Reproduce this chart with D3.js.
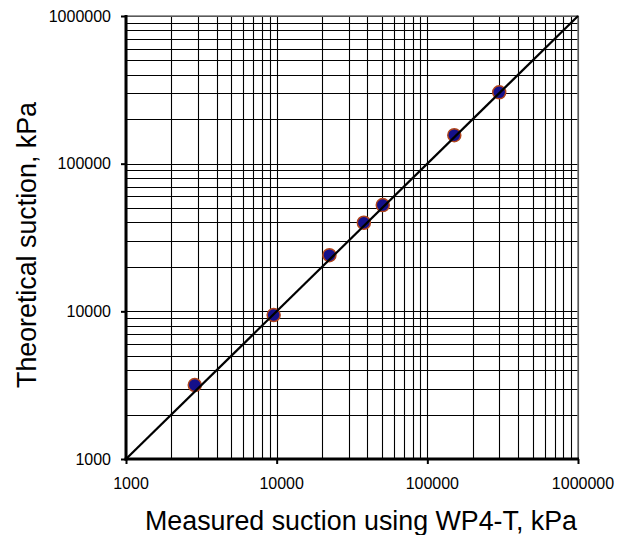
<!doctype html>
<html lang="en">
<head>
	<meta charset="UTF-8">
	<title>Measured vs theoretical suction</title>
	<script src="https://cdn.jsdelivr.net/npm/d3@7"></script>
	<style>
		body {
			margin: 0;
			background: #fff;
		}

		svg text {
			font-family: "Liberation Sans", Arial, Helvetica, sans-serif;
			fill: #000;
		}

		.tick-label {
			font-size: 16px;
		}

		.axis-title {
			font-size: 26.8px;
		}
	</style>
</head>
<body>
	<script>
		// measured suction (WP4-T), kPa
		var measured = [2860, 9550, 22400, 37900, 50600, 151000, 300000];
		// theoretical suction, kPa
		var theoretical = [3170, 9440, 24000, 39800, 52400, 156000, 304000];

		var xTicks = [1000, 10000, 100000, 1000000],
			yTicks = [1000, 10000, 100000, 1000000],
			domain = [1000, 1000000];

		var w = 633,
			h = 535,
			plotLeft = 126,
			plotRight = 578,
			plotTop = 16,
			plotBottom = 459;

		var svg = d3.select('body')
			.append('svg')
			.attr('width', w)
			.attr('height', h);

		var xScale = d3.scaleLog()
			.domain(domain)
			.range([plotLeft, plotRight]);

		var yScale = d3.scaleLog()
			.domain(domain)
			.range([plotBottom, plotTop]);

		// all grid values, major and minor
		var gridValues = function() {
			var vals = [];
			for (var p = 1000; p < 1000000; p *= 10) {
				for (var k = 1; k < 10; k++) {
					vals.push(p * k);
				}
			}
			vals.push(1000000);
			return vals;
		};

		// grid
		var grid = svg.append('g').attr('class', 'grid');

		grid.selectAll('line.vgrid')
			.data(gridValues())
			.enter()
			.append('line')
			.attr('class', 'vgrid')
			.attr('x1', function(d) { return Math.round(xScale(d)) + 0.5; })
			.attr('x2', function(d) { return Math.round(xScale(d)) + 0.5; })
			.attr('y1', plotTop)
			.attr('y2', plotBottom)
			.attr('stroke', '#000')
			.attr('stroke-width', 1.1);

		grid.selectAll('line.hgrid')
			.data(gridValues())
			.enter()
			.append('line')
			.attr('class', 'hgrid')
			.attr('y1', function(d) { return Math.round(yScale(d)) + 0.5; })
			.attr('y2', function(d) { return Math.round(yScale(d)) + 0.5; })
			.attr('x1', plotLeft)
			.attr('x2', plotRight)
			.attr('stroke', '#000')
			.attr('stroke-width', 1.1);

		// top / right border
		svg.append('path')
			.attr('d', 'M' + plotLeft + ',' + plotTop + 'H' + plotRight + 'V' + plotBottom)
			.attr('fill', 'none')
			.attr('stroke', '#777')
			.attr('stroke-width', 1.5);

		// axes
		var xAxis = d3.axisBottom(xScale)
			.tickValues(xTicks)
			.tickSize(5)
			.tickFormat('');

		var yAxis = d3.axisLeft(yScale)
			.tickValues(yTicks)
			.tickSize(5)
			.tickFormat('');

		var gx = svg.append('g')
			.attr('transform', 'translate(0,' + plotBottom + ')')
			.call(xAxis);
		gx.select('.domain').remove();
		gx.selectAll('.tick line').attr('stroke', '#000').attr('stroke-width', 2);

		var gy = svg.append('g')
			.attr('transform', 'translate(' + plotLeft + ',0)')
			.call(yAxis);
		gy.select('.domain').remove();
		gy.selectAll('.tick line').attr('stroke', '#000').attr('stroke-width', 2);

		svg.append('line')
			.attr('x1', plotLeft).attr('x2', plotLeft)
			.attr('y1', plotTop - 1).attr('y2', plotBottom + 1.5)
			.attr('stroke', '#000')
			.attr('stroke-width', 3);

		svg.append('line')
			.attr('x1', plotLeft - 1.5).attr('x2', plotRight + 1)
			.attr('y1', plotBottom).attr('y2', plotBottom)
			.attr('stroke', '#000')
			.attr('stroke-width', 3);

		// tick labels
		svg.selectAll('text.xlabel')
			.data(xTicks)
			.enter()
			.append('text')
			.attr('class', 'tick-label xlabel')
			.attr('x', function(d) { return xScale(d) + 5; })
			.attr('y', 489)
			.attr('text-anchor', 'middle')
			.text(function(d) { return d; });

		svg.selectAll('text.ylabel')
			.data(yTicks)
			.enter()
			.append('text')
			.attr('class', 'tick-label ylabel')
			.attr('x', 111)
			.attr('y', function(d) { return yScale(d); })
			.attr('dy', '0.36em')
			.attr('text-anchor', 'end')
			.text(function(d) { return d; });

		// data points
		svg.selectAll('circle')
			.data(measured)
			.enter()
			.append('circle')
			.attr('cx', function(d) { return xScale(d); })
			.attr('cy', function(d, i) { return yScale(theoretical[i]); })
			.attr('r', 6.5)
			.attr('fill', '#14108a')
			.attr('stroke', '#b0441c')
			.attr('stroke-width', 1.5);

		// 1:1 line
		svg.append('line')
			.attr('x1', xScale(domain[0]))
			.attr('y1', yScale(domain[0]))
			.attr('x2', xScale(domain[1]))
			.attr('y2', yScale(domain[1]))
			.attr('stroke', '#000')
			.attr('stroke-width', 2.2);

		// axis titles
		svg.append('text')
			.attr('class', 'axis-title')
			.attr('x', 361)
			.attr('y', 530)
			.attr('text-anchor', 'middle')
			.text('Measured suction using WP4-T, kPa');

		svg.append('text')
			.attr('class', 'axis-title')
			.attr('transform', 'translate(36,245) rotate(-90)')
			.attr('text-anchor', 'middle')
			.text('Theoretical suction, kPa');
	</script>
</body>
</html>
